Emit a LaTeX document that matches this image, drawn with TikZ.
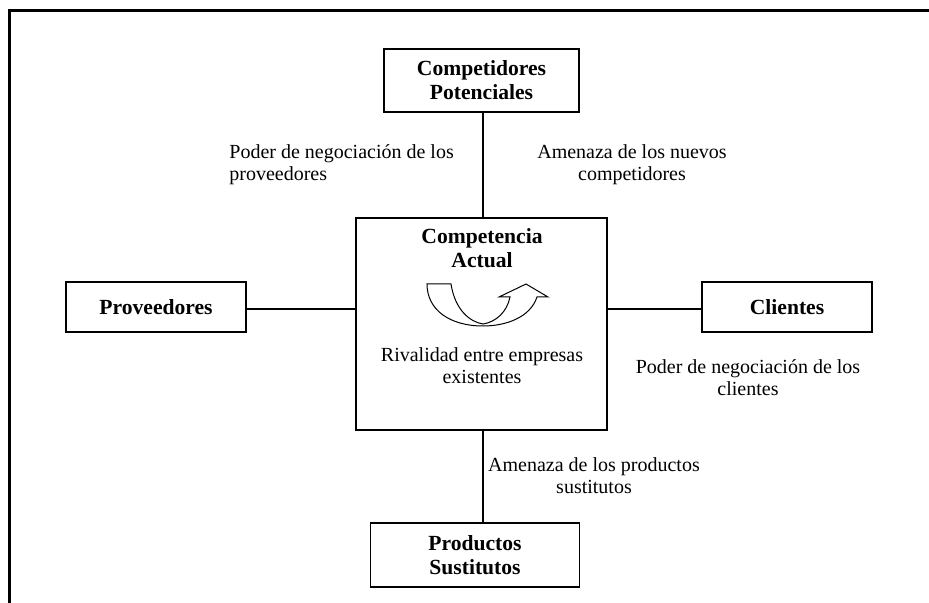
\documentclass[tikz,border=0pt]{standalone}
\usepackage{fontspec}
\setmainfont{Liberation Serif}
\usetikzlibrary{positioning}

\begin{document}
\begin{tikzpicture}[
    x=0.5pt, y=-0.5pt,
    fuerza/.style={draw, line width=0.9pt, align=center, inner sep=0pt, font=\fontsize{10.8}{12}\selectfont\bfseries},
    rotulo/.style={align=center, inner sep=0pt, font=\fontsize{10}{11}\selectfont},
    enlace/.style={line width=0.75pt}
  ]
    \useasboundingbox (0,0) rectangle (929,603);
    \draw[line width=1.5pt] (9,603) -- (9,11) -- (929,11);

    % las cinco fuerzas
    \node[fuerza, line width=0.75pt, minimum width=125.5pt, minimum height=106pt] (actual) at (481.5,324) {};
    \node[fuerza, minimum width=97.5pt, minimum height=31.5pt] (potenciales) at (481.5,80.5) {Competidores\\Potenciales};
    \node[fuerza, minimum width=90pt, minimum height=25pt] (proveedores) at (156,307) {Proveedores};
    \node[fuerza, minimum width=85pt, minimum height=25pt] (clientes) at (787,307) {Clientes};
    \node[fuerza, minimum width=104.5pt, minimum height=32pt] (sustitutos) at (475,555) {Productos\\Sustitutos};

    % texto dentro del cuadro central
    \node[fuerza, draw=none] (actualtit) at (482,248) {Competencia\\Actual};
    \node[rotulo] (rivalidad) at (482,366) {Rivalidad entre empresas\\existentes};

    % flecha de rivalidad
    \draw[line width=0.5pt, fill=white] (427,284) -- (451,284)
      .. controls (455,310) and (470,322) .. (483,324)
      .. controls (496,322) and (507,312) .. (510,297)
      -- (499,297) -- (526,284) -- (548,297) -- (537,297)
      .. controls (530,318) and (505,326) .. (483,326)
      .. controls (450,326) and (427,310) .. (427,284) -- cycle;

    % rotulos de las relaciones
    \node[rotulo, align=left, anchor=west] (poderprov) at (229,165) {Poder de negociación de los\\proveedores};
    \node[rotulo] (nuevos) at (632,165) {Amenaza de los nuevos\\competidores};
    \node[rotulo] (podercli) at (748,378) {Poder de negociación de los\\clientes};
    \node[rotulo] (amenazasust) at (594,476) {Amenaza de los productos\\sustitutos};

    \draw[enlace] (potenciales.south -| 483,0) -- (actual.north -| 483,0);
    \draw[enlace] (proveedores.east |- 0,309) -- (actual.west |- 0,309);
    \draw[enlace] (clientes.west |- 0,309) -- (actual.east |- 0,309);
    \draw[enlace] (actual.south -| 483,0) -- (sustitutos.north -| 483,0);
  \end{tikzpicture}
\end{document}
